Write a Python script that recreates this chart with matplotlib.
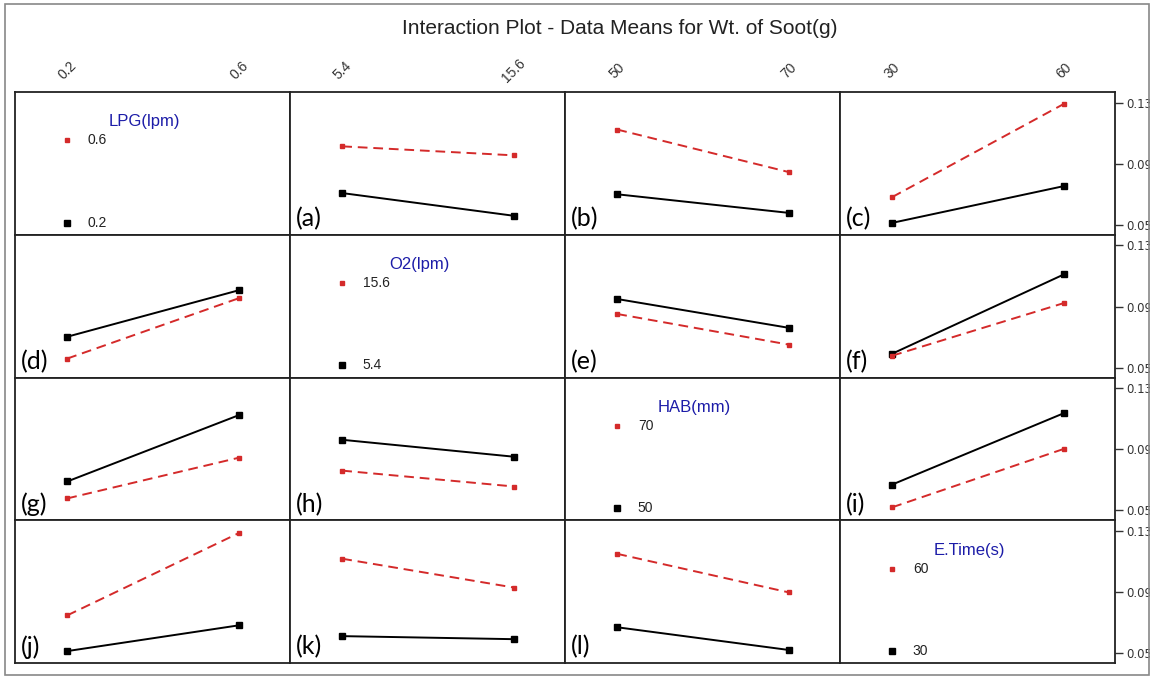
import matplotlib.pyplot as plt
from matplotlib.patches import Rectangle

# factors and their levels
factors = ['LPG(lpm)', 'O2(lpm)', 'HAB(mm)', 'E.Time(s)']
levels = [['0.2', '0.6'], ['5.4', '15.6'], ['50', '70'], ['30', '60']]
panel_tags = ['(a)', '(b)', '(c)', '(d)', '(e)', '(f)',
              '(g)', '(h)', '(i)', '(j)', '(k)', '(l)']

# means: [row][col] -> (low-level line, high-level line), None on diagonal
low_means = [
    [None, [0.0708, 0.0559], [0.0700, 0.0578], [0.0513, 0.0754]],
    [[0.0702, 0.1007], None, [0.0949, 0.0760], [0.0591, 0.1111]],
    [[0.0689, 0.1124], [0.0962, 0.0851], None, [0.0669, 0.1137]],
    [[0.0513, 0.0682], [0.0611, 0.0591], [0.0669, 0.0520], None],
]
high_means = [
    [None, [0.1014, 0.0955], [0.1124, 0.0845], [0.0682, 0.1293]],
    [[0.0559, 0.0955], None, [0.0851, 0.0650], [0.0578, 0.0923]],
    [[0.0578, 0.0845], [0.0760, 0.0656], None, [0.0520, 0.0903]],
    [[0.0747, 0.1287], [0.1118, 0.0929], [0.1150, 0.0897], None],
]
y_ticks = [0.05, 0.09, 0.13]

RED = '#d42a2a'
BLUE = '#1c1ca8'

fig = plt.figure(figsize=(11.5, 6.79), dpi=100)
fig.patch.set_facecolor('white')
fig.patches.append(Rectangle((0.004, 0.006), 0.995, 0.988, transform=fig.transFigure,
                             fill=False, edgecolor='#888888', lw=1.2))

W, H = 1150, 679
left, right, top, bottom = 15, 1115, 92, 663
cw = (right - left) / 4
rh = (bottom - top) / 4

tag_i = 0
for r in range(4):
    for c in range(4):
        x0 = left + c * cw
        y0 = top + (r + 1) * rh
        ax = fig.add_axes([x0 / W, 1 - y0 / H, cw / W, rh / H])
        ax.set_xlim(-0.304, 1.296)
        ax.set_ylim(0.0435, 0.137)
        ax.set_xticks([])
        for s in ax.spines.values():
            s.set_linewidth(1.3)
            s.set_color('#222222')
        if c == 3:
            ax.yaxis.tick_right()
            ax.set_yticks(y_ticks)
            ax.set_yticklabels([f'{t:.2f}' for t in y_ticks])
            ax.tick_params(axis='y', direction='out', length=6, width=1,
                           labelsize=8.5, colors='#333333', pad=2)
        else:
            ax.set_yticks([])
        if r == 0:
            for xi, lab in enumerate(levels[c]):
                ax.text(xi, 1.15, lab, transform=ax.get_xaxis_transform(),
                        rotation=45, ha='center', va='center', fontsize=10,
                        color='#333333', family='Liberation Sans')
        if r == c:
            # legend panel
            ax.plot(0, 0.1053, 's', color=RED, ms=3)
            ax.plot(0, 0.0515, 's', color='black', ms=4.5)
            ax.text(0.12, 0.1053, levels[r][1], va='center', fontsize=10,
                    family='Liberation Sans', color='#222222')
            ax.text(0.12, 0.0515, levels[r][0], va='center', fontsize=10,
                    family='Liberation Sans', color='#222222')
            ax.text(0.47, 0.79, factors[r], transform=ax.transAxes, ha='center',
                    va='center', fontsize=12, color=BLUE, family='Liberation Sans')
            continue
        ax.plot([0, 1], low_means[r][c], '-', color='black', lw=1.4,
                marker='s', ms=5)
        ax.plot([0, 1], high_means[r][c], '--', color=RED, lw=1.4,
                marker='s', ms=3, dashes=(5, 3))
        ax.text(0.02, 0.03, panel_tags[tag_i], transform=ax.transAxes,
                ha='left', va='bottom', fontsize=18, family='Lato')
        tag_i += 1

fig.text(620 / W, 1 - 28 / H, 'Interaction Plot - Data Means for Wt. of Soot(g)',
         ha='center', va='center', fontsize=15, family='Liberation Sans',
         color='#222222')

fig.savefig('out.png', dpi=100)
